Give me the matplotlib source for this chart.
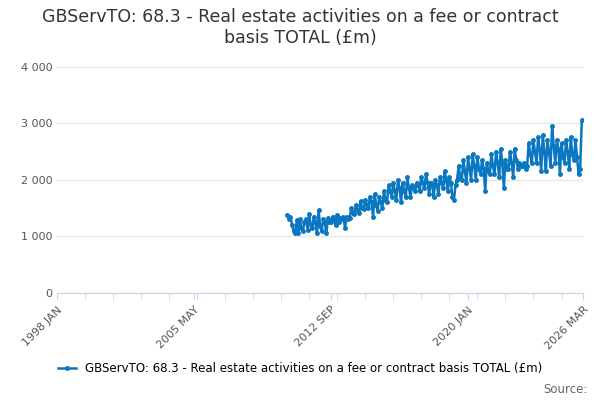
import matplotlib
matplotlib.use("Agg")
import matplotlib.pyplot as plt
import pandas as pd

start = "2010-05"
values = [
 1380,1300,1350,1200,1100,1050,1280,  # 2010 May-Nov
 1050,1300,1150,1100,1250,1300,1120,1400,1200,1150,1350,1250,
 1050,1460,1180,1100,1300,1250,1050,1320,1250,1250,1350,1300,
 1200,1380,1250,1320,1300,1350,1150,1350,1300,1320,1500,1420,
 1400,1550,1450,1420,1620,1500,1480,1650,1550,1500,1700,1600,
 1350,1750,1550,1450,1700,1600,1500,1800,1650,1600,1900,1800,
 1700,1950,1800,1650,2000,1850,1600,1950,1800,1700,2050,1850,
 1700,1900,1850,1800,1950,1900,1800,2050,1950,1850,2100,1950,
 1750,1950,1900,1700,2000,1900,1750,2050,1950,1850,2150,2000,
 1800,2050,1950,1700,1650,1900,2000,2250,2050,2000,2350,2150,
 1950,2400,2200,2000,2450,2250,2000,2400,2200,2100,2350,2200,
 1800,2300,2150,2100,2450,2250,2100,2500,2300,2050,2550,2300,
 1850,2350,2200,2200,2500,2300,2050,2550,2350,2200,2300,2250,
 2250,2300,2200,2250,2650,2450,2300,2700,2500,2300,2750,2550,
 2150,2800,2500,2150,2700,2500,2250,2950,2600,2300,2700,2550,
 2100,2650,2400,2300,2700,2500,2200,2750,2450,2350,2700,2400,
 2100,2200,3050,
]
dates = pd.date_range(start, periods=len(values), freq="MS")

fig = plt.figure(figsize=(6, 4), dpi=100)
ax = fig.add_axes([0.095, 0.268, 0.877, 0.565])
color = "#0a77c0"
ax.plot(dates, values, color=color, lw=1.8, marker="o", ms=2.5,
        label="GBServTO: 68.3 - Real estate activities on a fee or contract basis TOTAL (£m)")
ax.set_xlim(pd.Timestamp("1998-01-01"), pd.Timestamp("2026-03-01"))
ax.set_ylim(0, 4000)
yt = [0, 1000, 2000, 3000, 4000]
ax.set_yticks(yt)
ax.set_yticklabels(["0", "1 000", "2 000", "3 000", "4 000"], fontsize=8, color="#555555")
xt = [pd.Timestamp(d) for d in ["1998-01-01", "2005-05-01", "2012-09-01", "2020-01-01", "2026-03-01"]]
ax.set_xticks(xt)
ax.set_xticklabels(["1998 JAN", "2005 MAY", "2012 SEP", "2020 JAN", "2026 MAR"],
                   rotation=45, ha="right", rotation_mode="anchor", fontsize=8, color="#555555")
minor = pd.date_range("1998-01-01", "2026-03-01", freq="18MS")
ax.set_xticks(minor, minor=True)
ax.tick_params(axis="x", which="both", length=5, color="#ccd6eb")
ax.tick_params(axis="y", length=0)
ax.grid(axis="y", color="#e6e6e6", lw=1)
for s in ["top", "right", "left"]:
    ax.spines[s].set_visible(False)
ax.spines["bottom"].set_color("#ccd6eb")
fig.suptitle("GBServTO: 68.3 - Real estate activities on a fee or contract\nbasis TOTAL (£m)",
             fontsize=12.5, y=0.98, color="#333333")
fig.legend(loc="lower center", bbox_to_anchor=(0.5, 0.035), frameon=False, fontsize=8.5,
           handlelength=1.5)
fig.text(0.98, 0.01, "Source:", ha="right", va="bottom", fontsize=8.5, color="#666666")
fig.savefig("out.png")
